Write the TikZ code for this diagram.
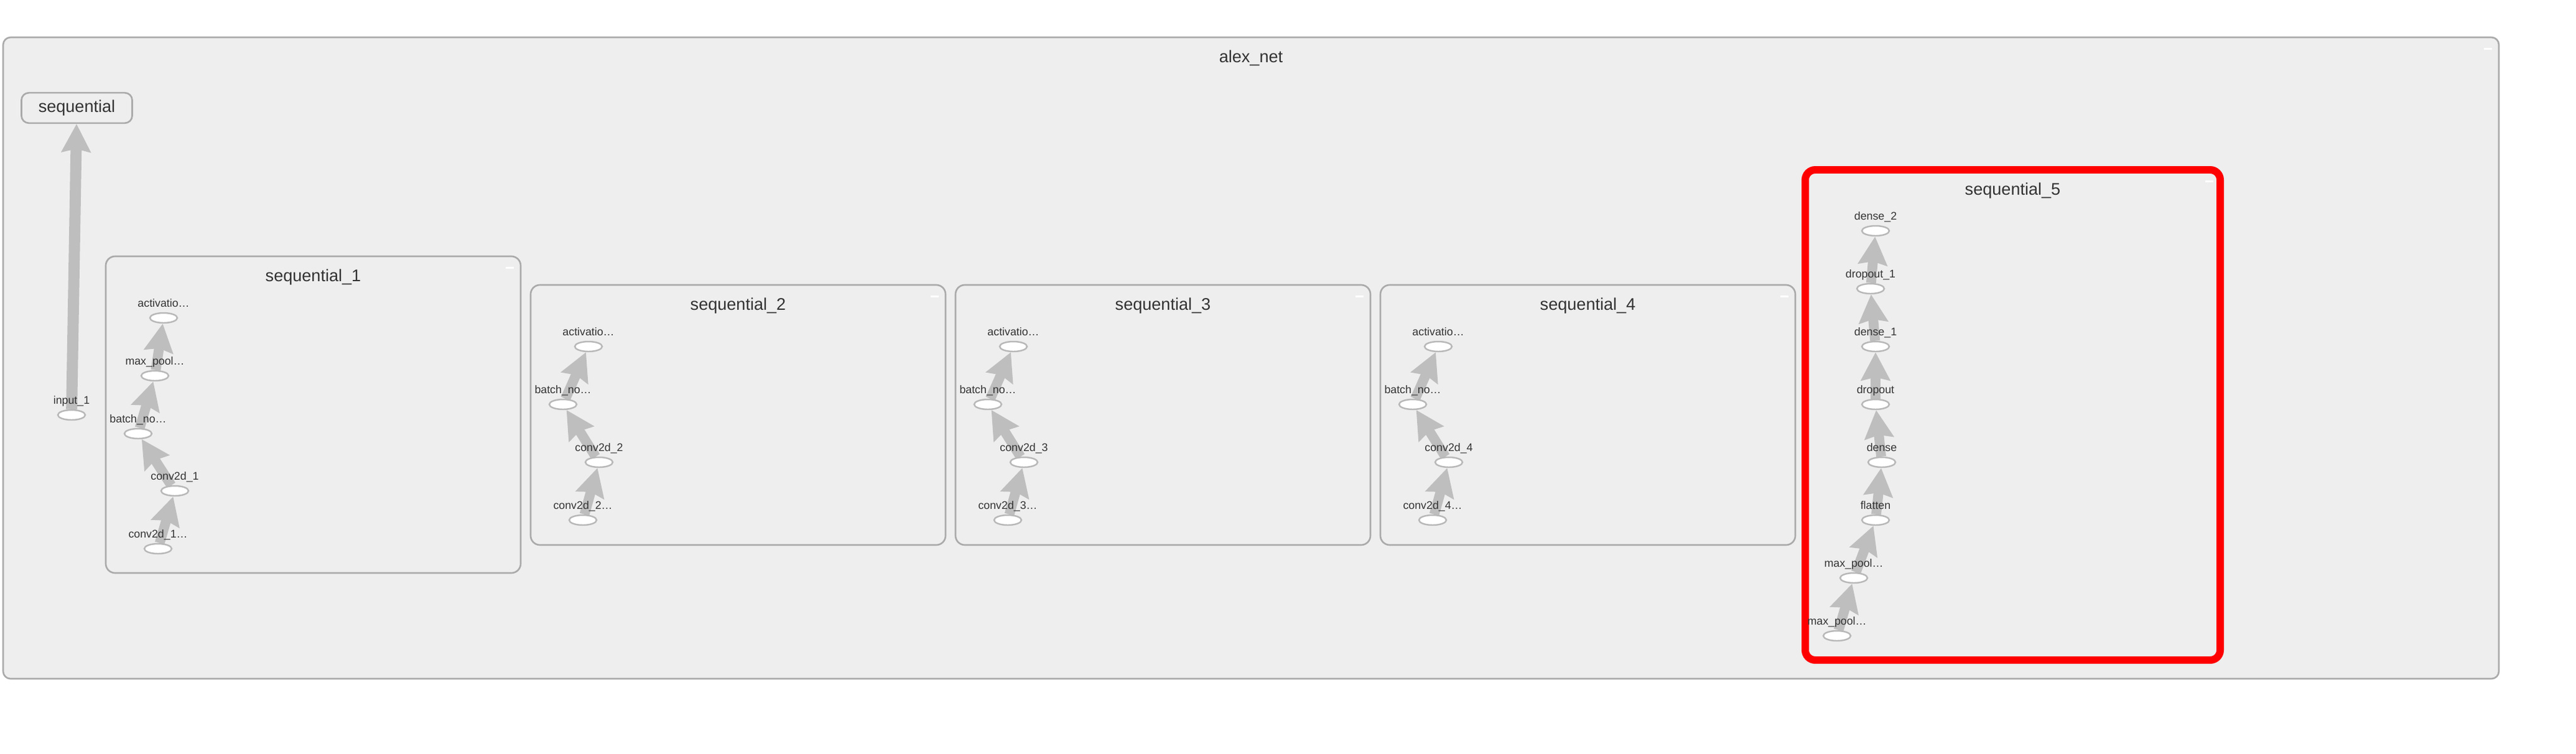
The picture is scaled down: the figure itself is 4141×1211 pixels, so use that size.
\documentclass[tikz,border=0pt]{standalone}
\usepackage{fontspec}
\setmainfont{Liberation Sans}
\usetikzlibrary{shapes.geometric,arrows.meta}
\definecolor{boxfill}{HTML}{EEEEEE}
\definecolor{boxline}{HTML}{AAAAAA}
\definecolor{opline}{HTML}{B8B8B8}
\definecolor{flowgrey}{HTML}{BEBEBE}
\definecolor{txt}{HTML}{333333}
\pgfdeclarelayer{bg}
\pgfdeclarelayer{edges}
\pgfsetlayers{bg,edges,main}

\begin{document}
\begin{tikzpicture}[x=0.01cm, y=-0.01cm,
      every node/.style = {text=txt},
      op/.style = {shape=ellipse, draw=opline, fill=white, line width=0.7pt,
        minimum width=0.44cm, minimum height=0.16cm, inner sep=0pt},
      lbl/.style = {inner sep=0pt, text depth=0pt, label distance=0.075cm,
        font=\fontsize{5.06pt}{6pt}\selectfont},
      ttl/.style = {anchor=base, font=\fontsize{7.7pt}{9pt}\selectfont},
      box/.style = {draw=boxline, fill=boxfill, line width=0.75pt, rounded corners=0.15cm},
      hot/.style = {draw=red, fill=boxfill, line width=3.4pt, rounded corners=0.16cm},
      fold/.style = {draw=white, line width=0.85pt},
      flow/.style = {draw=flowgrey, line width=4.5pt,
        -{Stealth[length=0.45cm, width=0.46cm, inset=0.05cm]}}]
    \useasboundingbox (0,0) rectangle (4141,1211);

    \begin{pgfonlayer}{bg}
    \draw[box, rounded corners=0.12cm] (5,60) rectangle (4017,1091);
    \draw[box] (170,412) rectangle (837,921);
    \draw[box] (853,458) rectangle (1520,876);
    \draw[box] (1536,458) rectangle (2203,876);
    \draw[box] (2219,458) rectangle (2886,876);
    \draw[hot] (2902,273) rectangle (3569,1061);
    \draw[fold] (3993,78) -- (4006,78);
    \draw[fold] (813,430) -- (826,430);
    \draw[fold] (1496,476) -- (1509,476);
    \draw[fold] (2179,476) -- (2192,476);
    \draw[fold] (2862,476) -- (2875,476);
    \draw[fold] (3545,291) -- (3558,291);
    \end{pgfonlayer}

    \node[ttl] (tnet) at (2011,100) {alex\_net};
    \node[ttl] (t1) at (503.5,452) {sequential\_1};
    \node[ttl] (t2) at (1186.5,498) {sequential\_2};
    \node[ttl] (t3) at (1869.5,498) {sequential\_3};
    \node[ttl] (t4) at (2552.5,498) {sequential\_4};
    \node[ttl] (t5) at (3235.5,313) {sequential\_5};

    \node[box, rounded corners=0.12cm, minimum width=1.78cm, minimum height=0.46cm,
      font=\fontsize{7.7pt}{9pt}\selectfont] (seq) at (123.5,173.5) {sequential};
    \node[op, label={[lbl]above:input\_1}] (in1) at (115,667) {};

    % sequential_1
    \node[op, label={[lbl]above:activatio…}] (a1) at (263,511) {};
    \node[op, label={[lbl]above:max\_pool…}] (m1) at (249,604) {};
    \node[op, label={[lbl]above:batch\_no…}] (b1) at (222,697) {};
    \node[op, label={[lbl]above:conv2d\_1}] (c1) at (281,789) {};
    \node[op, label={[lbl]above:conv2d\_1…}] (i1) at (254,882) {};

    % sequential_2
    \node[op, label={[lbl]above:activatio…}] (a2) at (946,557) {};
    \node[op, label={[lbl]above:batch\_no…}] (b2) at (905,650) {};
    \node[op, label={[lbl]above:conv2d\_2}] (c2) at (963,743) {};
    \node[op, label={[lbl]above:conv2d\_2…}] (i2) at (937,836) {};

    % sequential_3
    \node[op, label={[lbl]above:activatio…}] (a3) at (1629,557) {};
    \node[op, label={[lbl]above:batch\_no…}] (b3) at (1588,650) {};
    \node[op, label={[lbl]above:conv2d\_3}] (c3) at (1646,743) {};
    \node[op, label={[lbl]above:conv2d\_3…}] (i3) at (1620,836) {};

    % sequential_4
    \node[op, label={[lbl]above:activatio…}] (a4) at (2312,557) {};
    \node[op, label={[lbl]above:batch\_no…}] (b4) at (2271,650) {};
    \node[op, label={[lbl]above:conv2d\_4}] (c4) at (2329,743) {};
    \node[op, label={[lbl]above:conv2d\_4…}] (i4) at (2303,836) {};

    % sequential_5
    \node[op, label={[lbl]above:dense\_2}] (d2) at (3015,371) {};
    \node[op, label={[lbl]above:dropout\_1}] (o1) at (3007,464) {};
    \node[op, label={[lbl]above:dense\_1}] (d1) at (3015,557) {};
    \node[op, label={[lbl]above:dropout}] (o0) at (3015,650) {};
    \node[op, label={[lbl]above:dense}] (d0) at (3025,743) {};
    \node[op, label={[lbl]above:flatten}] (fl) at (3015,836) {};
    \node[op, label={[lbl]above:max\_pool…}] (p2) at (2980,929) {};
    \node[op, label={[lbl]above:max\_pool…}] (p1) at (2953,1022) {};

    \begin{pgfonlayer}{edges}
    \draw[flow, line width=5.1pt] (in1) -- (seq);
    \draw[flow] (i1) -- (c1);
    \draw[flow] (c1) -- (b1);
    \draw[flow] (b1) -- (m1);
    \draw[flow] (m1) -- (a1);
    \draw[flow] (i2) -- (c2);
    \draw[flow] (c2) -- (b2);
    \draw[flow] (b2) -- (a2);
    \draw[flow] (i3) -- (c3);
    \draw[flow] (c3) -- (b3);
    \draw[flow] (b3) -- (a3);
    \draw[flow] (i4) -- (c4);
    \draw[flow] (c4) -- (b4);
    \draw[flow] (b4) -- (a4);
    \draw[flow] (p1) -- (p2);
    \draw[flow] (p2) -- (fl);
    \draw[flow] (fl) -- (d0);
    \draw[flow] (d0) -- (o0);
    \draw[flow] (o0) -- (d1);
    \draw[flow] (d1) -- (o1);
    \draw[flow] (o1) -- (d2);
    \end{pgfonlayer}
    \end{tikzpicture}
\end{document}
